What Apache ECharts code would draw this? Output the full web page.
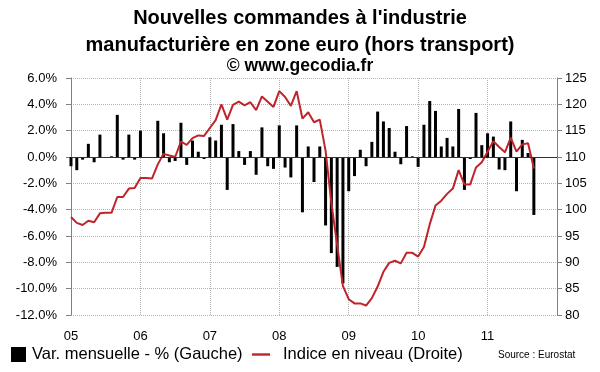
<!DOCTYPE html>
<html>
<head>
<meta charset="utf-8">
<script src="https://cdn.jsdelivr.net/npm/echarts@6/dist/echarts.min.js"></script>
<style>
html,body{margin:0;padding:0;background:#fff;}
#chart{width:600px;height:372px;}
</style>
</head>
<body>
<div id="chart"></div>
<script>
// Year tick labels (Jan of each year)
const yearLabels = ['05','06','07','08','09','10','11'];

// Monthly variation, % (left axis) : Jan 2005 - Sep 2011
const varMensuelle = [
  -0.7, -1.0, -0.2, 1.0, -0.4, 1.7, 0.0, 0.05, 3.2, -0.2, 1.7, -0.2,
  2.0, -0.05, -0.05, 2.75, 1.8, -0.4, -0.3, 2.6, -0.6, 1.25, 0.4, -0.15,
  1.5, 1.25, 2.45, -2.5, 2.5, 0.45, -0.6, 0.45, -1.35, 2.25, -0.7, -0.9,
  2.4, -0.8, -1.55, 2.4, -4.2, 0.8, -1.9, 0.8, -5.2, -7.3, -8.35, -9.6,
  -2.6, -1.45, 0.55, -0.7, 1.15, 3.45, 2.7, 2.2, 0.4, -0.55, 2.35, 0.05,
  -0.75, 2.45, 4.25, 3.5, 0.8, 1.45, 0.8, 3.65, -2.5, -0.15, 3.35, 0.9,
  1.8, 1.55, -0.95, -1.0, 2.7, -2.6, 1.3, 0.3, -4.4
];

// Index level (right axis) : Jan 2005 - Sep 2011
const indiceNiveau = [
  98.6, 97.5, 97.1, 97.9, 97.6, 99.3, 99.4, 99.4, 102.4, 102.4, 104.0, 104.1,
  106.0, 106.0, 105.9, 108.6, 110.6, 110.3, 110.0, 112.9, 112.3, 113.6, 114.1, 114.0,
  115.5, 117.0, 120.0, 117.1, 119.9, 120.5, 119.8, 120.4, 118.9, 121.5, 120.5, 119.5,
  122.5, 121.4, 119.7, 122.5, 117.3, 118.5, 116.6, 117.1, 111.2, 101.3, 93.3, 85.5,
  83.0, 82.2, 82.2, 81.8, 83.2, 85.4, 88.2, 89.9, 90.3, 89.8, 91.8, 91.8,
  91.1, 92.9, 97.2, 100.8, 101.7, 103.0, 104.0, 107.5, 104.8, 104.8, 108.0, 109.0,
  111.0, 113.0, 111.9, 110.9, 113.7, 111.0, 112.4, 112.6, 107.8
];

// Month categories Jan 2005 .. Jan 2012
const months = [];
for (let y = 2005; y <= 2012; y++) {
  for (let m = 1; m <= 12; m++) {
    if (months.length < 85) months.push(y + '-' + (m < 10 ? '0' + m : m));
  }
}

const FONT = "'Liberation Sans', Arial, sans-serif";
const RED = '#c0242b';
const BAR_NAME = 'Var. mensuelle - % (Gauche)';
const LINE_NAME = 'Indice en niveau (Droite)';
const chart = echarts.init(document.getElementById('chart'), null, {renderer: 'canvas'});

chart.setOption({
  animation: false,
  backgroundColor: '#fff',
  textStyle: {fontFamily: FONT},
  title: [
    {
      text: "Nouvelles commandes à l'industrie",
      left: 'center', top: 8, padding: 0,
      textStyle: {fontFamily: FONT, fontSize: 20, fontWeight: 'bold', color: '#000'}
    },
    {
      text: "manufacturière en zone euro (hors transport)",
      left: 'center', top: 35, padding: 0,
      textStyle: {fontFamily: FONT, fontSize: 20, fontWeight: 'bold', color: '#000'}
    },
    {
      text: '© www.gecodia.fr',
      left: 'center', top: 57, padding: 0,
      textStyle: {fontFamily: FONT, fontSize: 17.5, fontWeight: 'bold', color: '#000'}
    },
    {
      text: 'Source : Eurostat',
      left: 498, top: 350, padding: 0,
      textStyle: {fontFamily: FONT, fontSize: 10, fontWeight: 'normal', color: '#000'}
    }
  ],
  legend: [
    {
      left: 11, top: 346, padding: 0,
      itemWidth: 17, itemHeight: 15,
      textStyle: {fontFamily: FONT, fontSize: 16.5, color: '#000'},
      data: [{name: BAR_NAME, icon: 'path://M0,0H10V10H0Z'}]
    },
    {
      left: 252, top: 346, padding: 0,
      itemWidth: 18, itemHeight: 15,
      textStyle: {fontFamily: FONT, fontSize: 16.5, color: '#000', padding: [0, 0, 0, 8]},
      data: [{name: LINE_NAME, icon: 'path://M0,0H18V2.4H0Z'}]
    }
  ],
  grid: {left: 71, right: 43, top: 78, bottom: 57, containLabel: false},
  xAxis: {
    type: 'category',
    data: months,
    boundaryGap: false,
    axisLine: {show: false, onZero: false},
    axisTick: {show: false},
    axisLabel: {
      interval: 0,
      margin: 15,
      fontFamily: FONT, fontSize: 13, color: '#000',
      formatter: function (v, idx) {
        return (idx % 12 === 0 && idx / 12 < yearLabels.length) ? yearLabels[idx / 12] : '';
      }
    },
    splitLine: {
      show: true,
      interval: function (idx) { return idx % 12 === 0; },
      lineStyle: {color: '#b4b4b4', type: 'dotted', width: 1}
    }
  },
  yAxis: [
    {
      type: 'value', min: -12, max: 6, interval: 2, position: 'left',
      axisLine: {show: true, lineStyle: {color: '#808080', width: 1}},
      axisTick: {show: true, length: 5, lineStyle: {color: '#808080'}},
      axisLabel: {
        margin: 14, fontFamily: FONT, fontSize: 13, color: '#000',
        formatter: function (v) { return v.toFixed(1) + '%'; }
      },
      splitLine: {show: true, lineStyle: {color: '#b4b4b4', type: 'dotted', width: 1}}
    },
    {
      type: 'value', min: 80, max: 125, interval: 5, position: 'right',
      axisLine: {show: true, lineStyle: {color: '#808080', width: 1}},
      axisTick: {show: true, length: 5, lineStyle: {color: '#808080'}},
      axisLabel: {margin: 8, fontFamily: FONT, fontSize: 13, color: '#000'},
      splitLine: {show: false}
    }
  ],
  series: [
    {
      name: BAR_NAME,
      type: 'bar',
      yAxisIndex: 0,
      barWidth: 3,
      itemStyle: {color: '#000'},
      data: varMensuelle,
      markLine: {
        silent: true, symbol: 'none', label: {show: false},
        lineStyle: {color: '#333', type: 'solid', width: 1},
        data: [{yAxis: 0}]
      },
      z: 2
    },
    {
      name: LINE_NAME,
      type: 'line',
      yAxisIndex: 1,
      symbol: 'none',
      lineStyle: {color: RED, width: 2},
      itemStyle: {color: RED},
      data: indiceNiveau,
      z: 3
    }
  ]
});
</script>
</body>
</html>
